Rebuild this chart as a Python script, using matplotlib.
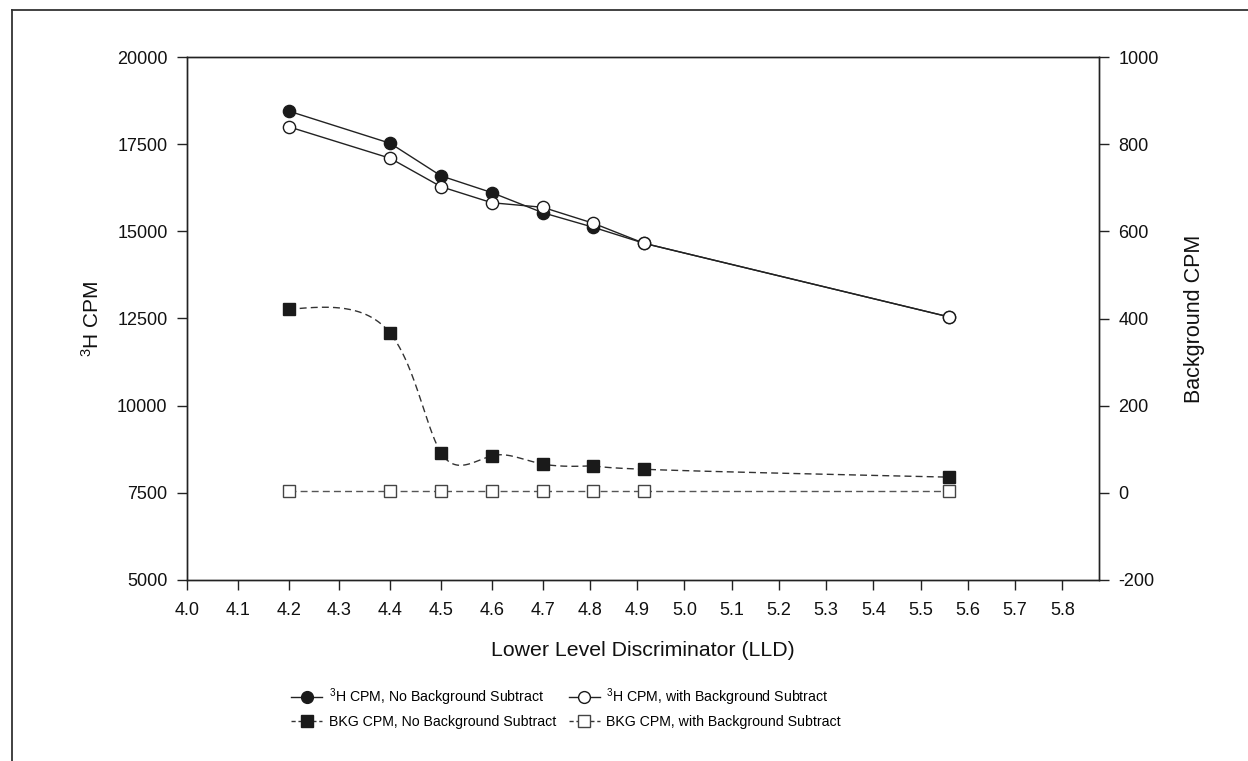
import numpy as np
import matplotlib
matplotlib.use("Agg")
import matplotlib.pyplot as plt
from matplotlib.lines import Line2D

plt.rcParams['font.family'] = ['Liberation Sans', 'DejaVu Sans']
plt.rcParams['mathtext.fontset'] = 'custom'
plt.rcParams['mathtext.rm'] = 'Liberation Sans'
plt.rcParams['mathtext.default'] = 'regular'

# ---------------- data ----------------
lld = [4.2, 4.4, 4.5, 4.6, 4.7, 4.8, 4.9, 5.5]
h3_no_bkg = [18450, 17525, 16590, 16110, 15535, 15115, 14655, 12545]
h3_with_bkg = [18000, 17095, 16280, 15820, 15690, 15230, 14655, 12545]
bkg_no_sub = [421, 366, 92, 85, 66, 62, 54, 36]
bkg_with_sub = [4, 4, 4, 4, 4, 4, 4, 4]

x_tick_labels = ['4.0', '4.1', '4.2', '4.3', '4.4', '4.5', '4.6', '4.7', '4.8', '4.9',
                 '5.0', '5.1', '5.2', '5.3', '5.4', '5.5', '5.6', '5.7', '5.8']
left_ticks = [5000, 7500, 10000, 12500, 15000, 17500, 20000]
right_ticks = [-200, 0, 200, 400, 600, 800, 1000]

labels = [r'$^{3}$H CPM, No Background Subtract',
          r'$^{3}$H CPM, with Background Subtract',
          'BKG CPM, No Background Subtract',
          'BKG CPM, with Background Subtract']


def natural_cubic(x, y, xs):
    """Natural cubic spline through (x, y), evaluated at xs."""
    x = np.asarray(x, float)
    y = np.asarray(y, float)
    n = len(x)
    h = np.diff(x)
    A = np.zeros((n, n))
    b = np.zeros(n)
    A[0, 0] = 1
    A[-1, -1] = 1
    for i in range(1, n - 1):
        A[i, i - 1] = h[i - 1]
        A[i, i] = 2 * (h[i - 1] + h[i])
        A[i, i + 1] = h[i]
        b[i] = 3 * ((y[i + 1] - y[i]) / h[i] - (y[i] - y[i - 1]) / h[i - 1])
    c = np.linalg.solve(A, b)
    out = np.empty_like(xs)
    for j, xv in enumerate(xs):
        i = min(max(np.searchsorted(x, xv) - 1, 0), n - 2)
        t = xv - x[i]
        bb = (y[i + 1] - y[i]) / h[i] - h[i] * (2 * c[i] + c[i + 1]) / 3
        d = (c[i + 1] - c[i]) / (3 * h[i])
        out[j] = y[i] + bb * t + c[i] * t ** 2 + d * t ** 3
    return out


def parametric_spline(x, y, n=600):
    t = np.arange(len(x), dtype=float)
    ts = np.linspace(0, len(x) - 1, n)
    return natural_cubic(t, x, ts), natural_cubic(t, y, ts)


W, H = 1248, 761
fig = plt.figure(figsize=(W / 100, H / 100), dpi=100)
ax = fig.add_axes([187 / W, 1 - 580 / H, (1099 - 187) / W, (580 - 57) / H])
ax2 = ax.twinx()

dark = '#222222'
# circles (left axis)
ax.plot(lld, h3_no_bkg, '-', color=dark, lw=1.0, marker='o', ms=8.8,
        mfc='#1a1a1a', mec='#1a1a1a', zorder=3)
ax.plot(lld, h3_with_bkg, '-', color=dark, lw=1.0, marker='o', ms=8.8,
        mfc='white', mec='#1a1a1a', mew=1.0, zorder=4)

# squares (right axis)
sx, sy = parametric_spline(lld, bkg_no_sub)
ax2.plot(sx, sy, color='#333333', lw=1.0, linestyle=(0, (5, 3)), zorder=2)
ax2.plot(lld, bkg_no_sub, linestyle='none', marker='s', ms=8, mfc='#1a1a1a',
         mec='#1a1a1a', zorder=3)
ax2.plot(lld, bkg_with_sub, color='#555555', lw=1.0, linestyle=(0, (5, 3)),
         marker='s', ms=8, mfc='white', mec='#444444', mew=1.0, zorder=3)

ax.set_xlim(4.0, 5.795)
ax.set_ylim(5000, 20000)
ax2.set_ylim(-200, 1000)

# tick marks as drawn in the reference (spacing slightly compressed above 4.7)
tick_vals = [float(s) for s in x_tick_labels]
tick_pos = [v if v <= 4.7 else 4.7 + (v - 4.7) * 0.93 for v in tick_vals]
ax.set_xticks(tick_pos)
ax.set_xticklabels(x_tick_labels)
ax.set_yticks(left_ticks)
ax.set_yticklabels([str(t) for t in left_ticks])
ax2.set_yticks(right_ticks)
ax2.set_yticklabels([str(t) for t in right_ticks])

for a in (ax, ax2):
    for s in a.spines.values():
        s.set_color(dark)
        s.set_linewidth(1.0)
    a.tick_params(direction='out', length=7, width=1.0, color=dark,
                  labelsize=13, labelcolor='#111111', pad=7)
ax.tick_params(axis='x', pad=9)

ax.set_xlabel('Lower Level Discriminator (LLD)', fontsize=15.3, color='#111111',
              labelpad=16)
ax.set_ylabel(r'$^{3}$H CPM', fontsize=15, color='#111111', labelpad=10)
ax2.set_ylabel('Background CPM', fontsize=15.5, color='#111111', labelpad=18)

handles = [
    Line2D([], [], color=dark, lw=1.0, marker='o', ms=8.5, mfc='#1a1a1a', mec='#1a1a1a'),
    Line2D([], [], color='#333333', lw=1.0, linestyle=(0, (3, 2)), marker='s', ms=8,
           mfc='#1a1a1a', mec='#1a1a1a'),
    Line2D([], [], color=dark, lw=1.0, marker='o', ms=8.5, mfc='white', mec='#1a1a1a'),
    Line2D([], [], color='#333333', lw=1.0, linestyle=(0, (3, 2)), marker='s', ms=8,
           mfc='white', mec='#444444'),
]
leg_labels = [labels[0], labels[2], labels[1], labels[3]]
fig.legend(handles, leg_labels, loc='center', ncol=2,
           bbox_to_anchor=(566 / W, 1 - 707.5 / H), frameon=False,
           prop={'size': 10.2},
           handlelength=2.2, handletextpad=0.45, columnspacing=0.9,
           labelspacing=0.5, borderpad=0)

# outer frame (cropped box)
fx = 12 / W
fy = 1 - 10 / H
fig.add_artist(Line2D([fx, fx], [-0.05, fy], transform=fig.transFigure,
                      color='#333333', lw=1.3))
fig.add_artist(Line2D([fx, 1.05], [fy, fy], transform=fig.transFigure,
                      color='#333333', lw=1.3))

fig.savefig('out.png', dpi=100)
